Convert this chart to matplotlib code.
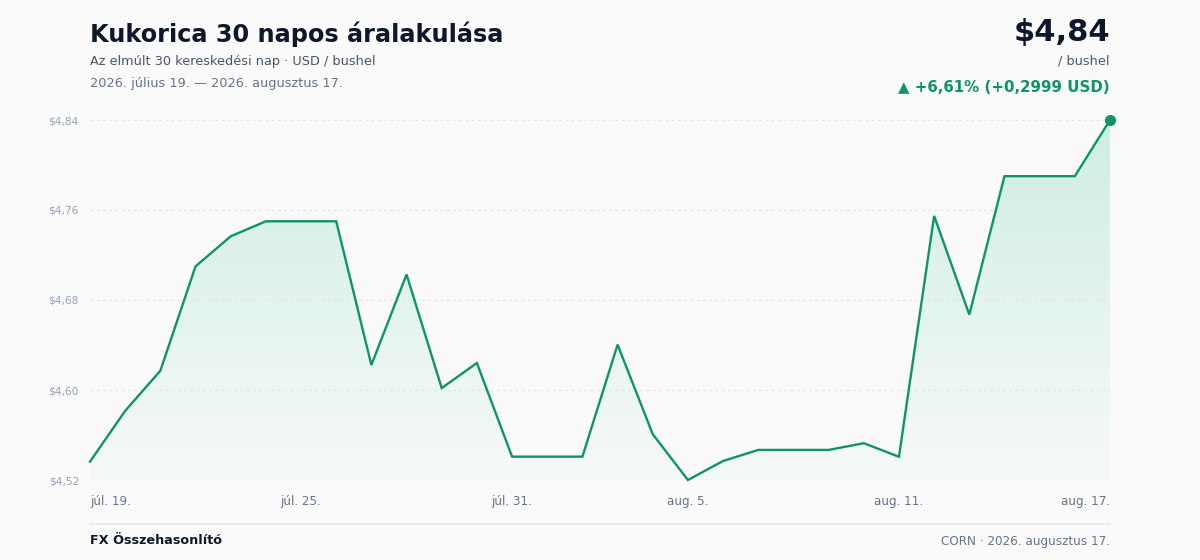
import numpy as np
import matplotlib
matplotlib.use("Agg")
import matplotlib.pyplot as plt
from matplotlib.ticker import FixedLocator, FuncFormatter

# ---- data ----
dates = ["júl. 19.", "júl. 20.", "júl. 21.", "júl. 22.", "júl. 23.", "júl. 24.",
         "júl. 25.", "júl. 26.", "júl. 27.", "júl. 28.", "júl. 29.", "júl. 30.",
         "júl. 31.", "aug. 1.", "aug. 2.", "aug. 3.", "aug. 4.", "aug. 5.",
         "aug. 6.", "aug. 7.", "aug. 8.", "aug. 9.", "aug. 10.", "aug. 11.",
         "aug. 12.", "aug. 13.", "aug. 14.", "aug. 15.", "aug. 16.", "aug. 17."]
prices = [4.5401, 4.5847, 4.6199, 4.7115, 4.7379, 4.7511, 4.7511, 4.7511,
          4.6250, 4.7044, 4.6047, 4.6267, 4.5445, 4.5445, 4.5445, 4.6428,
          4.5642, 4.5240, 4.5407, 4.5504, 4.5504, 4.5504, 4.5563, 4.5444,
          4.7558, 4.6692, 4.7907, 4.7907, 4.7907, 4.8400]
xtick_idx = [0, 6, 12, 17, 23, 29]

title = "Kukorica 30 napos áralakulása"
subtitle = "Az elmúlt 30 kereskedési nap · USD / bushel"
daterange = "2026. július 19. — 2026. augusztus 17."
price_big = "$4,84"
unit = "/ bushel"
change = "▲ +6,61% (+0,2999 USD)"
footer_left = "FX Összehasonlító"
footer_right = "CORN · 2026. augusztus 17."

# ---- style ----
BG = "#fafafa"
GREEN = "#0e9467"
FILL = (0x10 / 255, 0xb9 / 255, 0x81 / 255)
DARK = "#0f172a"
MUTED = "#475569"
MUTED2 = "#64748b"
LIGHT = "#94a3b8"

plt.rcParams['font.family'] = ['DejaVu Sans']

fig = plt.figure(figsize=(12, 5.6), dpi=100, facecolor=BG)
ax = fig.add_axes([0.075, 1 - 480 / 560, 0.85, 360 / 560])
ax.set_facecolor(BG)

x = np.arange(len(prices))
y = np.array(prices)
ymin, ymax = y.min(), y.max()
ax.set_xlim(0, len(prices) - 1)
ax.set_ylim(ymin, ymax)

# gradient fill
grad = np.linspace(0, 1, 256)
rgba = np.zeros((256, 1, 4))
rgba[:, 0, 0] = FILL[0]
rgba[:, 0, 1] = FILL[1]
rgba[:, 0, 2] = FILL[2]
rgba[:, 0, 3] = 0.02 + (grad ** 1.1) * 0.17
im = ax.imshow(rgba, aspect='auto', extent=[0, len(prices) - 1, ymin, ymax],
               origin='lower', zorder=1, interpolation='bicubic')
clip = plt.Polygon(np.column_stack([np.r_[x, x[::-1]], np.r_[y, np.full_like(y, ymin)]]),
                   closed=True, transform=ax.transData, facecolor='none', edgecolor='none')
ax.add_patch(clip)
im.set_clip_path(clip)

ax.plot(x, y, color=GREEN, lw=1.7, zorder=3, solid_joinstyle='miter', clip_on=False)
ax.plot([x[-1]], [y[-1]], 'o', color=GREEN, ms=7, zorder=4, clip_on=False)

# grid / ticks
yt = np.linspace(ymin, ymax, 5)
ax.yaxis.set_major_locator(FixedLocator(yt))
ax.yaxis.set_major_formatter(FuncFormatter(lambda v, p: "$" + f"{v:.2f}".replace(".", ",")))
ax.grid(axis='y', color='#e3e6ea', lw=1, ls=(0, (2, 2.5)), zorder=0)
ax.grid(axis='x', visible=False)
ax.set_xticks(xtick_idx)
ax.set_xticklabels([dates[i] for i in xtick_idx])
for spine in ax.spines.values():
    spine.set_visible(False)
ax.tick_params(axis='y', length=0, pad=8, labelsize=7.7, labelcolor=LIGHT)
ax.tick_params(axis='x', length=0, pad=11, labelsize=8.6, labelcolor=MUTED2)
xl = ax.get_xticklabels()
xl[0].set_ha('left')
xl[-1].set_ha('right')

# header
fig.text(90 / 1200, 1 - 34 / 560, title, fontsize=17.25, fontweight='bold', color=DARK,
         ha='left', va='center')
fig.text(90 / 1200, 1 - 61 / 560, subtitle, fontsize=9.3, color=MUTED, ha='left', va='center')
fig.text(90 / 1200, 1 - 83 / 560, daterange, fontsize=9.3, color=MUTED2, ha='left', va='center')
fig.text(1110 / 1200, 1 - 33 / 560, price_big, fontsize=22, fontweight='bold', color=DARK,
         ha='right', va='center')
fig.text(1110 / 1200, 1 - 61 / 560, unit, fontsize=9.3, color=MUTED, ha='right', va='center')
fig.text(1110 / 1200, 1 - 87 / 560, change, fontsize=10.8, fontweight='bold', color=GREEN,
         ha='right', va='center')

# footer
fig.add_artist(plt.Line2D([90 / 1200, 1110 / 1200], [1 - 523.5 / 560] * 2,
                          transform=fig.transFigure, color='#e8eaed', lw=1.2))
fig.text(90 / 1200, 1 - 541 / 560, footer_left, fontsize=9.2, fontweight='bold', color=DARK,
         ha='left', va='center')
fig.text(1110 / 1200, 1 - 541 / 560, footer_right, fontsize=8.65, color=MUTED2,
         ha='right', va='center')

fig.savefig("out.png", dpi=100, facecolor=BG)
